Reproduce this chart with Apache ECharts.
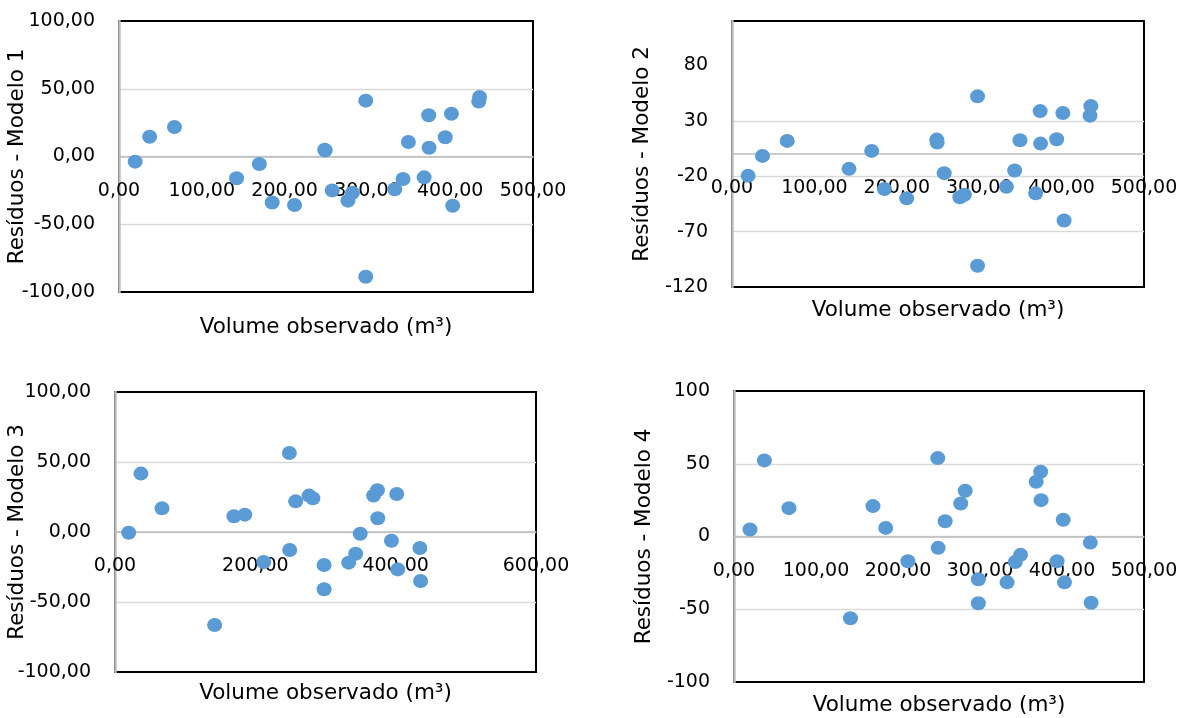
<!DOCTYPE html>
<html>
<head>
<meta charset="utf-8">
<script src="https://cdn.jsdelivr.net/npm/echarts@6/dist/echarts.min.js"></script>
<style>
html, body { margin: 0; padding: 0; background: #fff; }
#residuos { width: 1186px; height: 718px; }
</style>
</head>
<body>
<div id="residuos"></div>
<script>
// volume observado (m³), shared by the four models
const volume = [19.5, 37, 67, 142, 169.5, 185, 212, 248.5, 249, 257.5, 276.5, 282, 298, 298, 333, 343, 349.5, 368.5, 374, 374.5, 394, 401.5, 403, 434.5, 435.5]

// residuals per model
const residuosModelo1 = [-3.8, 14.6, 21.8, -16.1, -5.5, -34, -35.8, 5.0, 4.5, -25, -32.6, -26.7, 41.2, -88.7, -24.2, -16.6, 10.7, -15.4, 30.4, 6.5, 14.2, 31.6, -36.3, 40.5, 43.9]
const residuosModelo2 = [-19.7, -1.7, 11.8, -13.4, 2.8, -31.6, -40, 13, 10.3, -17.3, -39, -36.7, 52, -100.8, -29.5, -14.9, 12.4, -35.5, 38.7, 9.4, 13.3, 37, -60, 34.6, 43.2]
const residuosModelo3 = [-0.5, 41.7, 16.9, -66.4, 11.2, 12.4, -21.4, 56.4, -12.9, 21.9, 26, 24.1, -23.6, -40.9, -21.9, -15.5, -1.2, 26, 29.8, 9.8, -6.2, 27.1, -26.7, -11.4, -35]
const residuosModelo4 = [4.8, 52.3, 19.5, -56.2, 20.9, 5.9, -17, 53.9, -7.8, 10.5, 22.7, 31.4, -29.4, -45.9, -31.5, -17.5, -12.6, 37.6, 44.5, 25, -17, 11.5, -31.5, -4.2, -45.5]

// tick labels
const xTicks500 = [0, 100, 200, 300, 400, 500]
const xTicks600 = [0, 200, 400, 600]
const yTicks100 = [-100, -50, 0, 50, 100]
const yTicks120 = [-120, -70, -20, 30, 80]

const font = 'DejaVu Sans'
const comma = (v) => v.toFixed(2).replace('.', ',')

let panels = [
    { name: 'Resíduos - Modelo 1', res: residuosModelo1, xTicks: xTicks500, yTicks: yTicks100, yMin: -100, yMax: 100, dec: true,
      grid: { left: 119, top: 21, width: 414, height: 271 }, gapY: 91, gapX: 160 },
    { name: 'Resíduos - Modelo 2', res: residuosModelo2, xTicks: xTicks500, yTicks: yTicks120, yMin: -120, yMax: 120, dec: false,
      grid: { left: 732, top: 21, width: 412, height: 266 }, gapY: 79, gapX: 145 },
    { name: 'Resíduos - Modelo 3', res: residuosModelo3, xTicks: xTicks600, yTicks: yTicks100, yMin: -100, yMax: 100, dec: true,
      grid: { left: 115, top: 392, width: 421, height: 280 }, gapY: 87, gapX: 150 },
    { name: 'Resíduos - Modelo 4', res: residuosModelo4, xTicks: xTicks500, yTicks: yTicks100, yMin: -100, yMax: 100, dec: false,
      grid: { left: 734, top: 391, width: 410, height: 291 }, gapY: 79, gapX: 158 }
]

let grids = [], xAxes = [], yAxes = [], series = []

panels.forEach((p, i) => {
    grids.push(Object.assign({
        show: true,
        borderColor: '#000',
        borderWidth: 2
    }, p.grid))

    // x axis sits on the zero residual line (lifted up from the bottom edge)
    let zeroLift = p.grid.height * (0 - p.yMin) / (p.yMax - p.yMin)

    xAxes.push({
        type: 'value',
        gridIndex: i,
        position: 'bottom',
        offset: -zeroLift,
        min: p.xTicks[0],
        max: p.xTicks[p.xTicks.length - 1],
        axisLine: { onZero: false, lineStyle: { color: '#bcbcbc', width: 1.5 } },
        axisTick: { show: false, customValues: p.xTicks },
        splitLine: { show: false },
        axisLabel: {
            customValues: p.xTicks,
            margin: 25,
            fontSize: 19,
            fontFamily: font,
            color: '#000',
            formatter: comma
        },
        name: 'Volume observado (m³)',
        nameLocation: 'middle',
        nameGap: p.gapX,
        nameMoveOverlap: false,
        nameTextStyle: { fontSize: 21.5, fontFamily: font, color: '#000' }
    })

    yAxes.push({
        type: 'value',
        gridIndex: i,
        min: p.yMin,
        max: p.yMax,
        axisLine: { show: true, onZero: false, lineStyle: { color: '#bfbfbf', width: 2.5 } },
        axisTick: { show: false, customValues: p.yTicks },
        splitLine: {
            show: true,
            showMinLine: false,
            showMaxLine: false,
            lineStyle: { color: '#d9d9d9', width: 1.3 }
        },
        axisLabel: {
            customValues: p.yTicks,
            margin: 24,
            fontSize: 19,
            fontFamily: font,
            color: '#000',
            formatter: p.dec ? comma : (v) => String(v)
        },
        name: p.name,
        nameLocation: 'middle',
        nameGap: p.gapY,
        nameMoveOverlap: false,
        nameTextStyle: { fontSize: 21.5, fontFamily: font, color: '#000' }
    })

    series.push({
        type: 'scatter',
        xAxisIndex: i,
        yAxisIndex: i,
        symbolSize: [15, 14],
        itemStyle: { color: '#5B9BD5', opacity: 1 },
        data: volume.map((v, j) => [v, p.res[j]])
    })
})

let option = {
    animation: false,
    grid: grids,
    xAxis: xAxes,
    yAxis: yAxes,
    series: series
}

let chart = echarts.init(document.getElementById('residuos'))
chart.setOption(option)
</script>
</body>
</html>
